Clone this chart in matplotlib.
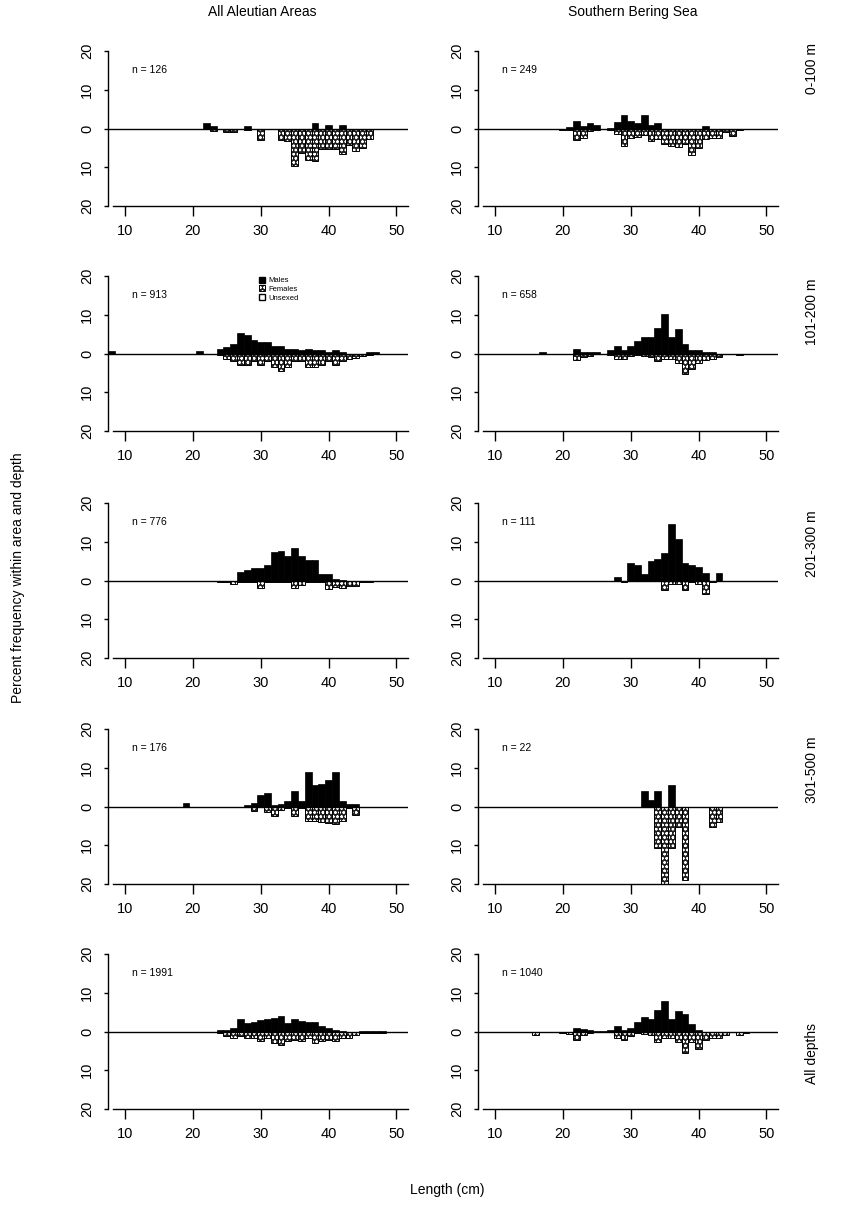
import numpy as np
import matplotlib
matplotlib.use("Agg")
import matplotlib.pyplot as plt
from matplotlib.patches import Patch

plt.rcParams['font.family'] = ['Liberation Sans', 'DejaVu Sans']
plt.rcParams['hatch.linewidth'] = 0.6

# length-frequency (%) by area and depth; males plotted up, females down
# each panel: first length (cm), then one value per 1-cm bin

# All Aleutian Areas
al_0_100_start = 21
al_0_100_n = 126
al_0_100_male = [0, 1.5, 0.6, 0, 0, 0, 0, 0.6, 0, 0, 0, 0, 0, 0, 0, 0, 0, 1.5, 0, 1.0, 0, 1.0, 0, 0, 0, 0]
al_0_100_female = [0, 0, 0.6, 0, 1.0, 1.0, 0, 0.5, 0, 3.0, 0, 0, 3.0, 3.3, 9.7, 6.3, 8.0, 8.4, 5.4, 5.2, 5.2, 6.5, 4.2, 5.9, 5.0, 2.8]

al_101_200_start = 8
al_101_200_n = 913
al_101_200_male = [0.6, 0, 0, 0, 0, 0, 0, 0, 0, 0, 0, 0, 0, 0.6, 0, 0, 1.2, 1.7, 2.5, 5.4, 4.8, 3.6, 2.9, 2.9,
                   1.9, 2.0, 1.2, 1.2, 0.8, 1.2, 0.8, 0.8, 0.5, 0.8, 0.3, 0, 0, 0, 0.3, 0.3]
al_101_200_female = [0, 0, 0, 0, 0, 0, 0, 0, 0, 0, 0, 0, 0, 0, 0, 0, 0.5, 1.4, 2.0, 3.0, 3.0, 2.0, 3.0, 2.0,
                     3.6, 4.5, 3.4, 2.0, 2.0, 3.6, 3.6, 3.0, 2.0, 3.0, 2.0, 1.5, 1.1, 0.7, 0.3, 0.2]

al_201_300_start = 24
al_201_300_n = 776
al_201_300_male = [0, 0, 0, 2.1, 2.6, 3.2, 3.2, 4.0, 7.3, 7.7, 6.2, 8.3, 6.4, 5.3, 5.3, 1.6, 1.6, 0.4, 0.2, 0, 0, 0, 0]
al_201_300_female = [0.5, 0.3, 1.0, 0.3, 0.3, 0.3, 1.9, 0.5, 0.5, 0.5, 0.5, 1.9, 1.2, 0.5, 0.5, 0.4, 2.1, 1.6, 1.9, 1.4, 1.4, 0.4, 0.3]

al_301_500_start = 19
al_301_500_n = 176
al_301_500_male = [1.0, 0, 0, 0, 0, 0, 0, 0, 0, 0.5, 1.0, 3.0, 3.6, 0.3, 0.7, 1.5, 4.0, 1.5, 8.8, 5.6, 5.9, 6.8, 8.8, 1.5, 0.6, 0.6]
al_301_500_female = [0, 0, 0, 0, 0, 0, 0, 0, 0, 0, 1.1, 0, 1.5, 2.4, 1.0, 0.5, 2.4, 0.5, 3.7, 3.7, 3.9, 4.2, 4.4, 3.7, 0.5, 2.1]

al_all_start = 24
al_all_n = 1991
al_all_male = [0.3, 0.5, 0.9, 3.3, 2.2, 2.5, 2.9, 3.1, 3.5, 3.9, 2.2, 3.2, 2.6, 2.5, 2.5, 1.4, 0.8, 0.3, 0.2, 0, 0, 0.1, 0.2, 0.2, 0.2]
al_all_female = [0.5, 1.2, 1.8, 1.2, 1.8, 1.8, 2.5, 1.8, 2.9, 3.6, 2.5, 2.1, 2.5, 1.8, 2.9, 2.5, 2.3, 2.5, 1.8, 1.8, 0.8, 0.5, 0.3, 0.3, 0.3]

# Southern Bering Sea
bs_0_100_start = 20
bs_0_100_n = 249
bs_0_100_male = [0, 0.3, 1.9, 0.6, 1.5, 1.0, 0, 0.2, 1.7, 3.4, 1.9, 1.5, 3.4, 1.0, 1.5, 0, 0, 0, 0, 0, 0, 0.6, 0, 0, 0, 0, 0]
bs_0_100_female = [0.4, 0.5, 3.0, 2.4, 0.7, 0.5, 0, 0.5, 1.5, 4.5, 2.4, 2.2, 1.7, 3.1, 2.8, 4.1, 4.5, 4.8, 4.0, 6.9, 5.1, 2.8, 2.4, 2.4, 1.0, 2.0, 0.3]

bs_101_200_start = 17
bs_101_200_n = 658
bs_101_200_male = [0.5, 0, 0, 0, 0, 1.2, 0.5, 0.4, 0.3, 0, 1.0, 2.0, 1.0, 2.0, 3.1, 4.2, 4.2, 6.7, 10.1, 4.2, 6.3, 2.5, 1.0, 0.8, 0.5, 0.4, 0, 0, 0, 0]
bs_101_200_female = [0, 0, 0, 0, 0, 1.7, 0.8, 0.6, 0, 0, 0.4, 1.4, 1.4, 0.7, 0.5, 0.7, 0.8, 2.0, 1.4, 1.4, 2.5, 5.3, 4.1, 2.4, 1.7, 1.4, 0.8, 0, 0, 0.5]

bs_201_300_start = 28
bs_201_300_n = 111
bs_201_300_male = [1.0, 0, 4.5, 4.0, 1.6, 5.1, 5.5, 7.0, 14.5, 10.6, 4.5, 4.0, 3.5, 2.0, 0, 2.0]
bs_201_300_female = [0, 0.4, 0, 0, 0, 0, 0, 2.4, 1.0, 1.0, 2.4, 0.5, 1.0, 3.5, 0.5, 0]

bs_301_500_start = 32
bs_301_500_n = 22
bs_301_500_male = [3.9, 1.6, 3.9, 0, 5.5, 0, 0, 0, 0, 0, 0, 0]
bs_301_500_female = [0, 0, 10.7, 20.0, 10.7, 5.4, 18.9, 0, 0, 0, 5.4, 3.9]

bs_all_start = 16
bs_all_n = 1040
bs_all_male = [0, 0, 0, 0, 0, 0, 0.9, 0.7, 0.5, 0.2, 0.2, 0.5, 1.4, 0.5, 0.8, 2.5, 3.8, 3.2, 5.6, 8.0, 3.1, 5.2, 4.4, 2.0, 0.5,
               0, 0, 0, 0, 0, 0, 0]
bs_all_female = [0.8, 0, 0, 0, 0.5, 0.6, 2.1, 0.8, 0.3, 0, 0, 0, 1.8, 2.3, 1.2, 0.5, 0.6, 0.8, 2.6, 1.8, 1.8, 2.6, 5.5, 2.6, 4.6,
                 2.1, 1.8, 1.8, 0.8, 0, 0.8, 0.3]

areas = ['All Aleutian Areas', 'Southern Bering Sea']
depths = ['0-100 m', '101-200 m', '201-300 m', '301-500 m', 'All depths']

panels = [
    [(al_0_100_start, al_0_100_male, al_0_100_female, al_0_100_n),
     (bs_0_100_start, bs_0_100_male, bs_0_100_female, bs_0_100_n)],
    [(al_101_200_start, al_101_200_male, al_101_200_female, al_101_200_n),
     (bs_101_200_start, bs_101_200_male, bs_101_200_female, bs_101_200_n)],
    [(al_201_300_start, al_201_300_male, al_201_300_female, al_201_300_n),
     (bs_201_300_start, bs_201_300_male, bs_201_300_female, bs_201_300_n)],
    [(al_301_500_start, al_301_500_male, al_301_500_female, al_301_500_n),
     (bs_301_500_start, bs_301_500_male, bs_301_500_female, bs_301_500_n)],
    [(al_all_start, al_all_male, al_all_female, al_all_n),
     (bs_all_start, bs_all_male, bs_all_female, bs_all_n)],
]

W, H = 841, 1215
fig = plt.figure(figsize=(W / 100, H / 100), dpi=100)

col_left = [108, 478]
ax_w = 300
row_top = [51, 276, 503, 729, 954]
ax_h = 155

# stipple for females: white dots on black, outlined separately
female_hatch = 'oooo'

for r in range(5):
    for c in range(2):
        start, male, female, n = panels[r][c]
        x = start + np.arange(len(male))
        fem = -np.array(female)
        ax = fig.add_axes([col_left[c] / W, 1 - (row_top[r] + ax_h) / H, ax_w / W, ax_h / H])
        ax.bar(x, male, width=1.0, color='black', edgecolor='black', linewidth=0.5)
        ax.bar(x, fem, width=1.0, color='#202020', edgecolor='white',
               hatch=female_hatch, linewidth=0)
        ax.bar(x, fem, width=1.0, fill=False, edgecolor='black', linewidth=0.7)
        ax.axhline(0, color='black', lw=1.0)
        ax.set_xlim(7.5, 51.7)
        ax.set_ylim(-20, 20)
        for s in ['top', 'right']:
            ax.spines[s].set_visible(False)
        ax.spines['left'].set_linewidth(1.0)
        ax.spines['bottom'].set_linewidth(1.0)
        ax.spines['bottom'].set_bounds(8.3, 51.7)
        ax.set_xticks([10, 20, 30, 40, 50])
        ax.set_yticks([-20, -10, 0, 10, 20])
        ax.set_yticklabels(['20', '10', '0', '10', '20'], rotation=90, va='center')
        ax.tick_params(axis='x', length=7, width=1.0, pad=6, labelsize=10.5)
        ax.tick_params(axis='y', length=3, width=1.0, pad=7, labelsize=10.5)
        ax.text(11.1, 15, f'n = {n}', fontsize=7.5, va='center', ha='left')

        if r == 1 and c == 0:
            fem_handle = (Patch(facecolor='#202020', edgecolor='white', hatch=female_hatch, linewidth=0),
                          Patch(fill=False, edgecolor='black', linewidth=0.7))
            handles = [Patch(facecolor='black', edgecolor='black'),
                       fem_handle,
                       Patch(facecolor='white', edgecolor='black')]
            ax.legend(handles, ['Males', 'Females', 'Unsexed'], loc='upper left',
                      bbox_to_anchor=(0.49, 1.02), frameon=False, fontsize=5.5,
                      handlelength=0.8, handleheight=0.8, labelspacing=0.15,
                      borderpad=0, handletextpad=0.5)

# column and row headings
fig.text(262 / W, 1 - 12 / H, areas[0], ha='center', va='center', fontsize=10)
fig.text(633 / W, 1 - 12 / H, areas[1], ha='center', va='center', fontsize=10)
row_label_y = [68, 312, 544, 770, 1053]
for r in range(5):
    fig.text(812 / W, 1 - row_label_y[r] / H, depths[r], rotation=90,
             ha='center', va='center', fontsize=10)

fig.text(18 / W, 1 - 578 / H, 'Percent frequency within area and depth', rotation=90,
         ha='center', va='center', fontsize=10)
fig.text(447 / W, 1 - 1190 / H, 'Length (cm)', ha='center', va='center', fontsize=10)

fig.savefig('out.png', dpi=100)
